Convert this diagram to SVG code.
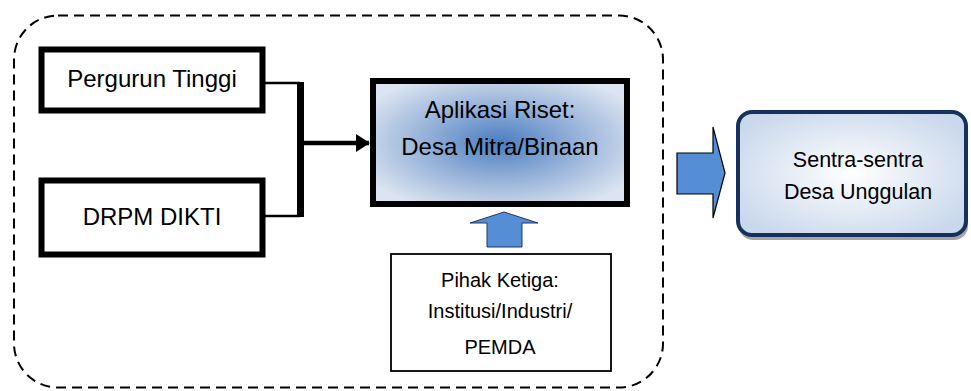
<svg xmlns="http://www.w3.org/2000/svg" width="971" height="391" viewBox="0 0 971 391">
<style>
text{font-family:"Liberation Sans",Arial,sans-serif;fill:#000;text-anchor:middle}
.big{font-size:24px}
.mid{font-size:20px}
.sen{font-size:21.5px}
.thick{fill:#fff;stroke:#000;stroke-width:6}
.blk{fill:none;stroke:#000}
</style>
<defs>
<radialGradient id="gBlue" cx="50%" cy="50%" r="60%">
<stop offset="0" stop-color="#4a7ec0"/>
<stop offset="0.45" stop-color="#8eacd6"/>
<stop offset="1" stop-color="#dbe4f0"/>
</radialGradient>
<radialGradient id="gLight" cx="50%" cy="50%" r="60%">
<stop offset="0" stop-color="#ffffff"/>
<stop offset="1" stop-color="#c9d8ec"/>
</radialGradient>
<marker id="ah" markerWidth="14" markerHeight="18" refX="13" refY="9" orient="auto" markerUnits="userSpaceOnUse">
<path d="M0,0 L14,9 L0,18 Z" fill="#000"/>
</marker>
</defs>
<rect x="14" y="15.5" width="649" height="372" rx="44" ry="44" fill="none" stroke="#000" stroke-width="2" stroke-dasharray="10,6"/>
<g id="connectors">
<polyline class="blk" stroke-width="2.5" points="265,83 300,83"/>
<polyline class="blk" stroke-width="2.5" points="265,216 300,216"/>
<line class="blk" x1="300.5" y1="82" x2="300.5" y2="217" stroke-width="7"/>
<line class="blk" x1="303" y1="143" x2="369" y2="143" stroke-width="4.5" marker-end="url(#ah)"/>
<path d="M487,247 L487,223 L470,223 L504,212 L538,223 L522,223 L522,247 Z" fill="#558ed5" stroke="#1f3864" stroke-width="1"/>
<path d="M677,153 L713,153 L713,127 L725,173 L713,218 L713,194 L677,194 Z" fill="#558ed5" stroke="#000" stroke-width="1.2"/>
</g>
<g id="pergurun">
<rect class="thick" x="41.5" y="49.5" width="221" height="61"/>
<text class="big" x="152" y="87">Pergurun Tinggi</text>
</g>
<g id="drpm">
<rect class="thick" x="41.5" y="180.5" width="221" height="74"/>
<text class="big" x="152" y="225">DRPM DIKTI</text>
</g>
<g id="aplikasi">
<rect x="373" y="81" width="254" height="123" fill="url(#gBlue)" stroke="#000" stroke-width="6"/>
<text class="big" x="500" y="118">Aplikasi Riset:</text>
<text class="big" x="500" y="155">Desa Mitra/Binaan</text>
</g>
<g id="pihak">
<rect x="391" y="254" width="220" height="117" fill="#fff" stroke="#000" stroke-width="1.8"/>
<text class="mid" x="500" y="287">Pihak Ketiga:</text>
<text class="mid" x="500" y="318">Institusi/Industri/</text>
<text class="mid" x="500" y="354">PEMDA</text>
</g>
<g id="sentra">
<rect x="739" y="115" width="229" height="125" rx="14" fill="#a6a6a6"/>
<rect x="738" y="112" width="228" height="123" rx="14" fill="url(#gLight)" stroke="#16325c" stroke-width="4"/>
<text class="sen" x="858" y="167">Sentra-sentra</text>
<text class="sen" x="858" y="199">Desa Unggulan</text>
</g>
</svg>
